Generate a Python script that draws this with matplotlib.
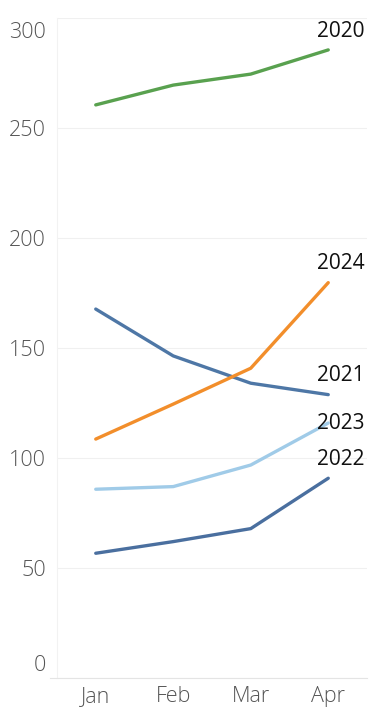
import matplotlib
matplotlib.use("Agg")
import matplotlib.pyplot as plt
import matplotlib.transforms as mtrans

months = ["Jan", "Feb", "Mar", "Apr"]
years = ["2020", "2021", "2022", "2023", "2024"]
v2020 = [260.5, 269.5, 274.5, 285.5]
v2021 = [167.7, 146.4, 134.0, 128.8]
v2022 = [56.7, 62.0, 67.9, 90.8]
v2023 = [85.8, 87.0, 96.8, 115.9]
v2024 = [108.6, 124.5, 140.8, 179.7]
yticks = [0, 50, 100, 150, 200, 250, 300]

series = {"2020": v2020, "2021": v2021, "2022": v2022, "2023": v2023, "2024": v2024}
colors = {"2020": "#59a14f", "2021": "#4e77a6", "2022": "#4a6f9f",
          "2023": "#a0cbe8", "2024": "#f28e2b"}
label_dy = {"2020": 6, "2021": 6, "2022": 6, "2023": -8, "2024": 6}

plt.rcParams['font.family'] = ['Open Sans', 'DejaVu Sans']

fig = plt.figure(figsize=(3.78, 7.26), dpi=100)
ax = fig.add_axes([57/378, 48/726, 310/378, 660/726])

x = list(range(len(months)))
for yr in years:
    ax.plot(x, series[yr], color=colors[yr], lw=2.4, solid_capstyle='round', zorder=3)
    ax.annotate(yr, (x[-1], series[yr][-1]), xytext=(9, label_dy[yr]),
                textcoords='offset points', ha='center', va='bottom',
                fontsize=15, color='#111111', annotation_clip=False, zorder=4)

ax.set_xlim(-0.5, 3.5)
ax.set_ylim(0, 300)
ax.set_yticks(yticks)
ax.set_yticklabels([str(t) for t in yticks], fontweight='light')
ax.set_xticks(x)
ax.set_xticklabels(months, fontweight='light')
ax.grid(axis='y', color='#f0f0f0', lw=0.8)
ax.set_axisbelow(True)
for s in ['top', 'right']:
    ax.spines[s].set_visible(False)
ax.spines['left'].set_color('#f2f2f2')
ax.spines['bottom'].set_color('#e4e4e4')
ax.spines['bottom'].set_bounds(-0.59, 3.5)
ax.tick_params(axis='y', length=0, labelsize=15.5, labelcolor='#555555', pad=8)
ax.tick_params(axis='x', length=0, labelsize=15.5, labelcolor='#555555', pad=6)

ylabels = ax.get_yticklabels()
ylabels[0].set_transform(ylabels[0].get_transform() + mtrans.ScaledTranslation(0, 15/100, fig.dpi_scale_trans))
ylabels[-1].set_transform(ylabels[-1].get_transform() + mtrans.ScaledTranslation(0, -12/100, fig.dpi_scale_trans))

fig.savefig("out.png", dpi=100)
